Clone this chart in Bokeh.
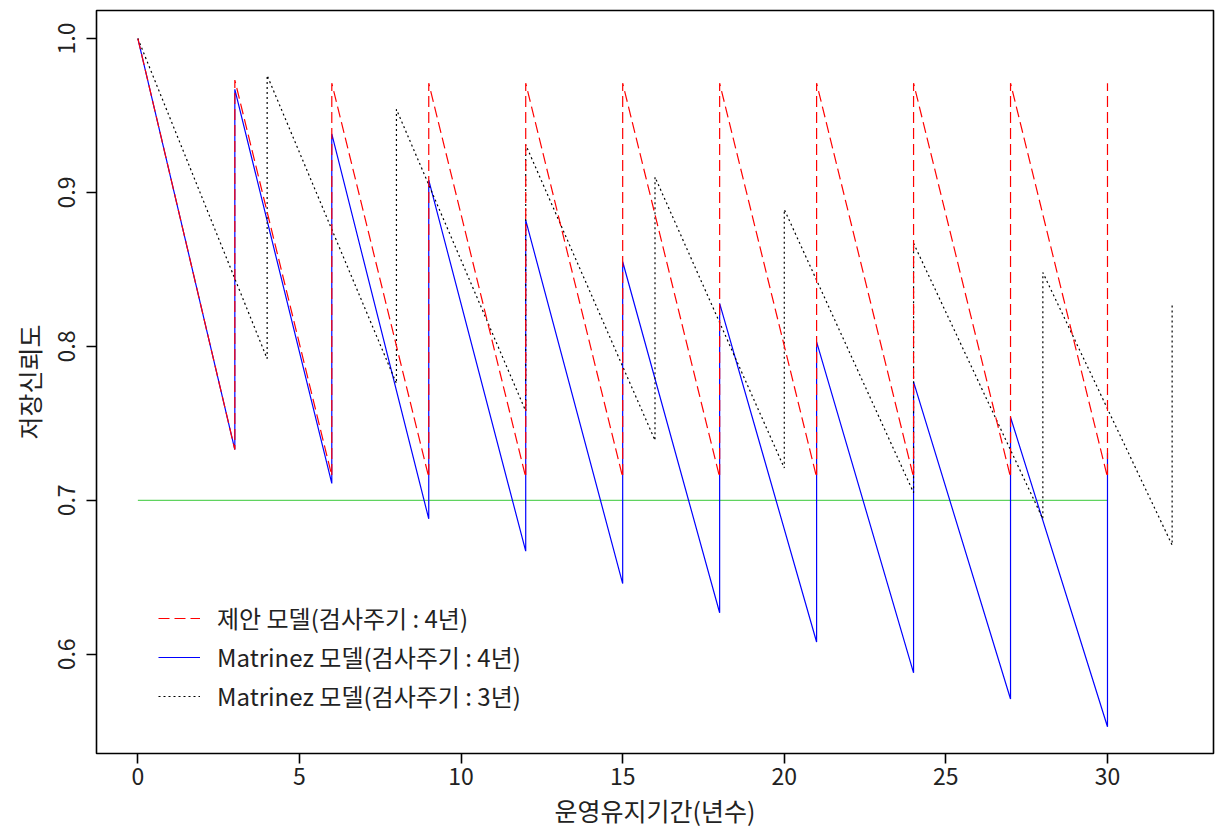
from bokeh.plotting import figure
from bokeh.models import Range1d, FixedTicker, Legend, LegendItem
from bokeh.embed import file_html
from bokeh.resources import INLINE

# ---- data ----
# Proposed model: inspection every 3 years
prop_times = [0, 3, 6, 9, 12, 15, 18, 21, 24, 27, 30]
prop_after = [1.000, 0.973, 0.971, 0.971, 0.971, 0.971, 0.971, 0.971, 0.971, 0.971, 0.971]
prop_before = [None, 0.733, 0.716, 0.715, 0.715, 0.715, 0.715, 0.715, 0.715, 0.715, 0.715]

# Matrinez model (blue): inspection every 3 years
mart_times = [0, 3, 6, 9, 12, 15, 18, 21, 24, 27, 30]
mart_after = [1.000, 0.967, 0.938, 0.908, 0.882, 0.855, 0.828, 0.803, 0.777, 0.754, 0.731]
mart_before = [None, 0.733, 0.711, 0.688, 0.667, 0.646, 0.627, 0.608, 0.588, 0.571, 0.553]

# Matrinez model (black dotted): inspection every 4 years
mart4_times = [0, 4, 8, 12, 16, 20, 24, 28, 32]
mart4_after = [1.000, 0.976, 0.954, 0.931, 0.910, 0.889, 0.867, 0.848, 0.827]
mart4_before = [None, 0.792, 0.776, 0.758, 0.739, 0.721, 0.705, 0.688, 0.671]

# Required reliability threshold
threshold_x = [0, 30]
threshold_y = [0.7, 0.7]

x_ticks = [0, 5, 10, 15, 20, 25, 30]
y_ticks = [0.6, 0.7, 0.8, 0.9, 1.0]
y_tick_labels = {0.6: "0.6", 0.7: "0.7", 0.8: "0.8", 0.9: "0.9", 1.0: "1.0"}

labels = ["제안 모델(검사주기 : 4년)",
          "Matrinez 모델(검사주기 : 4년)",
          "Matrinez 모델(검사주기 : 3년)"]
x_title = "운영유지기간(년수)"
y_title = "저장신뢰도"


def sawtooth(times, after, before):
    xs, ys = [times[0]], [after[0]]
    for t, b, a in zip(times[1:], before[1:], after[1:]):
        xs += [t, t]
        ys += [b, a]
    return xs, ys


FONT = "Noto Sans CJK KR"

p = figure(width=1215, height=830, output_backend="svg", toolbar_location=None,
           x_range=Range1d(-1.28, 33.28), y_range=Range1d(0.5356, 1.0182),
           min_border_left=96, min_border_right=2, min_border_top=10, min_border_bottom=76)

p.grid.visible = False
p.outline_line_color = "black"
p.outline_line_width = 1.6
p.background_fill_color = "white"
p.border_fill_color = "white"

p.line(threshold_x, threshold_y, line_color="#5fd35f", line_width=1.3)

bx, by = sawtooth(mart_times, mart_after, mart_before)
r_blue = p.line(bx, by, line_color="#0000ff", line_width=1.2)

kx, ky = sawtooth(mart4_times, mart4_after, mart4_before)
r_black = p.line(kx, ky, line_color="black", line_width=1.2, line_dash="2 3")

rx, ry = sawtooth(prop_times, prop_after, prop_before)
r_red = p.line(rx, ry, line_color="#ff0000", line_width=1.2, line_dash="11 5")

for ax in (p.xaxis[0], p.yaxis[0]):
    ax.axis_line_color = None
    ax.major_tick_in = 0
    ax.major_tick_out = 10
    ax.major_tick_line_width = 1.6
    ax.minor_tick_line_color = None
    ax.major_label_text_font = FONT
    ax.major_label_text_font_size = "23px"
    ax.major_label_text_color = "#222222"
    ax.axis_label_text_font = FONT
    ax.axis_label_text_font_size = "25px"
    ax.axis_label_text_font_style = "normal"
    ax.axis_label_text_color = "#222222"

p.xaxis[0].ticker = FixedTicker(ticks=x_ticks)
p.xaxis[0].major_label_standoff = 4
p.xaxis[0].axis_label = x_title
p.xaxis[0].axis_label_standoff = 4

p.yaxis[0].ticker = FixedTicker(ticks=y_ticks)
p.yaxis[0].major_label_overrides = y_tick_labels
p.yaxis[0].major_label_orientation = "vertical"
p.yaxis[0].major_label_standoff = 11
p.yaxis[0].axis_label = y_title
p.yaxis[0].axis_label_standoff = 9

legend = Legend(items=[LegendItem(label=labels[0], renderers=[r_red]),
                       LegendItem(label=labels[1], renderers=[r_blue]),
                       LegendItem(label=labels[2], renderers=[r_black])],
                location=(62, 40), border_line_color=None, background_fill_alpha=0,
                padding=0, margin=0, glyph_width=42, glyph_height=20,
                label_height=20, spacing=4, label_standoff=17,
                label_text_font=FONT, label_text_font_size="24px",
                label_text_color="#222222")
p.add_layout(legend)

open("out.html", "w").write(file_html(p, INLINE))
